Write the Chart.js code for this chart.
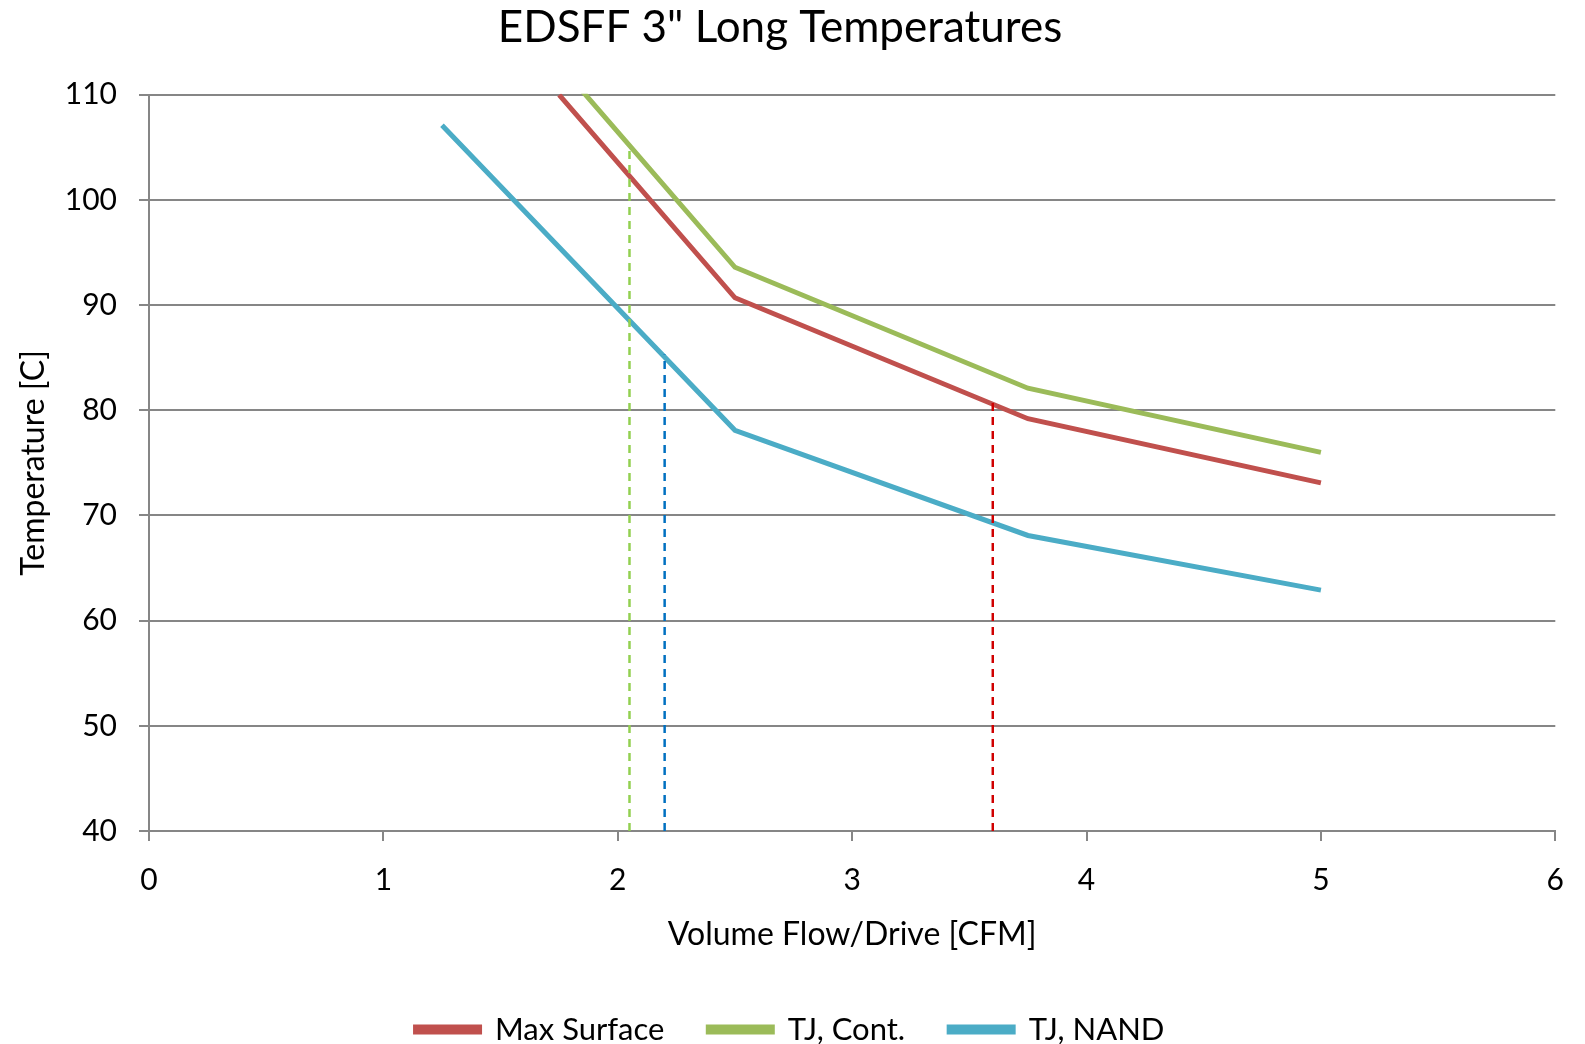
<!DOCTYPE html>
<html>
<head>
<meta charset="utf-8">
<script src="https://cdn.jsdelivr.net/npm/chart.js@4.4.0/dist/chart.umd.min.js"></script>
<style>
  html, body { margin: 0; padding: 0; background: #fff; }
  #wrap { width: 1585px; height: 1044px; }
</style>
</head>
<body>
<div id="wrap"><canvas id="temp-chart"></canvas></div>
<script>
// --- DATA ---
const chartTitle = 'EDSFF 3" Long Temperatures';
const xTitle = 'Volume Flow/Drive [CFM]';
const yTitle = 'Temperature [C]';

const seriesNames = ['Max Surface', 'TJ, Cont.', 'TJ, NAND'];

const maxSurfaceFlow = [1.75, 2.5, 3.75, 5];
const maxSurfaceTemp = [110, 90.7, 79.2, 73.1];

const tjContFlow = [1.75, 2.5, 3.75, 5];
const tjContTemp = [112.9, 93.6, 82.1, 76.0];

const tjNandFlow = [1.25, 2.5, 3.75, 5];
const tjNandTemp = [107.1, 78.1, 68.1, 62.9];

// limit markers (vertical dashed lines): flow, bottom temp, top temp
const contLimitFlow = [2.05, 2.05];
const contLimitTemp = [40, 105.1];
const nandLimitFlow = [2.2, 2.2];
const nandLimitTemp = [40, 85.3];
const surfLimitFlow = [3.6, 3.6];
const surfLimitTemp = [40, 80.7];

const xTicks = [0, 1, 2, 3, 4, 5, 6];
const yTicks = [40, 50, 60, 70, 80, 90, 100, 110];

// Office palette
const colors = {
    red: '#C0504D',
    green: '#9BBB59',
    blue: '#4BACC6',
    dashGreen: '#92D050',
    dashBlue: '#0070C0',
    dashRed: '#D00000',
    grid: '#868686'
};

const FONT = "'Lato', sans-serif";

function toPoints(xs, ys) {
    return xs.map((x, i) => ({ x: x, y: ys[i] }));
}

function solidSeries(label, xs, ys, color) {
    return {
        label: label,
        data: toPoints(xs, ys),
        borderColor: color,
        backgroundColor: color,
        borderWidth: 5,
        pointRadius: 0,
        tension: 0,
        borderCapStyle: 'butt',
        clip: 1
    };
}

function dashSeries(xs, ys, color) {
    return {
        label: '',
        isMarker: true,
        data: toPoints(xs, ys),
        borderColor: color,
        backgroundColor: color,
        borderWidth: 2.5,
        borderDash: [8, 6],
        pointRadius: 0
    };
}

// nudge the legend a little right, like the original
const legendShift = {
    id: 'legendShift',
    afterLayout(chart) {
        if (!chart.legend) return;
        chart.legend.left += 10;
        chart.legend.right += 10;
    }
};

const ctx = document.getElementById('temp-chart');

new Chart(ctx, {
    type: 'line',
    plugins: [legendShift],
    data: {
        datasets: [
            dashSeries(contLimitFlow, contLimitTemp, colors.dashGreen),
            dashSeries(nandLimitFlow, nandLimitTemp, colors.dashBlue),
            dashSeries(surfLimitFlow, surfLimitTemp, colors.dashRed),
            solidSeries(seriesNames[0], maxSurfaceFlow, maxSurfaceTemp, colors.red),
            solidSeries(seriesNames[1], tjContFlow, tjContTemp, colors.green),
            solidSeries(seriesNames[2], tjNandFlow, tjNandTemp, colors.blue)
        ]
    },
    options: {
        responsive: true,
        maintainAspectRatio: false,
        animation: false,
        layout: {
            padding: { top: 0, right: 25, bottom: -11, left: 0 }
        },
        plugins: {
            title: {
                display: true,
                text: chartTitle,
                color: '#000',
                font: { family: FONT, size: 44, weight: 'normal' },
                padding: { top: 1, bottom: 41 }
            },
            legend: {
                position: 'bottom',
                labels: {
                    filter: (item, data) => !data.datasets[item.datasetIndex].isMarker,
                    boxWidth: 64,
                    boxHeight: 5,
                    padding: 44,
                    color: '#000',
                    font: { family: FONT, size: 31 }
                }
            },
            tooltip: { enabled: false }
        },
        scales: {
            x: {
                type: 'linear',
                min: 0,
                max: 6,
                afterBuildTicks: (scale) => { scale.ticks = xTicks.map(v => ({ value: v })); },
                afterFit: (scale) => { scale.height = 139; },
                border: { display: true, color: colors.grid, width: 2 },
                grid: {
                    display: true,
                    drawOnChartArea: false,
                    drawTicks: true,
                    tickLength: 10,
                    color: colors.grid,
                    lineWidth: 2
                },
                ticks: {
                    color: '#000',
                    padding: 21,
                    font: { family: FONT, size: 30 }
                },
                title: {
                    display: true,
                    text: xTitle,
                    color: '#000',
                    font: { family: FONT, size: 32 },
                    padding: { top: 0, bottom: 16 }
                }
            },
            y: {
                min: 40,
                max: 110,
                afterBuildTicks: (scale) => { scale.ticks = yTicks.map(v => ({ value: v })); },
                afterFit: (scale) => { scale.width = 149; },
                border: { display: true, color: colors.grid, width: 2 },
                grid: {
                    color: colors.grid,
                    lineWidth: 2,
                    drawTicks: true,
                    tickLength: 10
                },
                ticks: {
                    color: '#000',
                    padding: 22,
                    font: { family: FONT, size: 30 }
                },
                title: {
                    display: true,
                    text: yTitle,
                    color: '#000',
                    font: { family: FONT, size: 32 },
                    padding: { top: 14, bottom: 0 }
                }
            }
        }
    }
});
</script>
</body>
</html>
